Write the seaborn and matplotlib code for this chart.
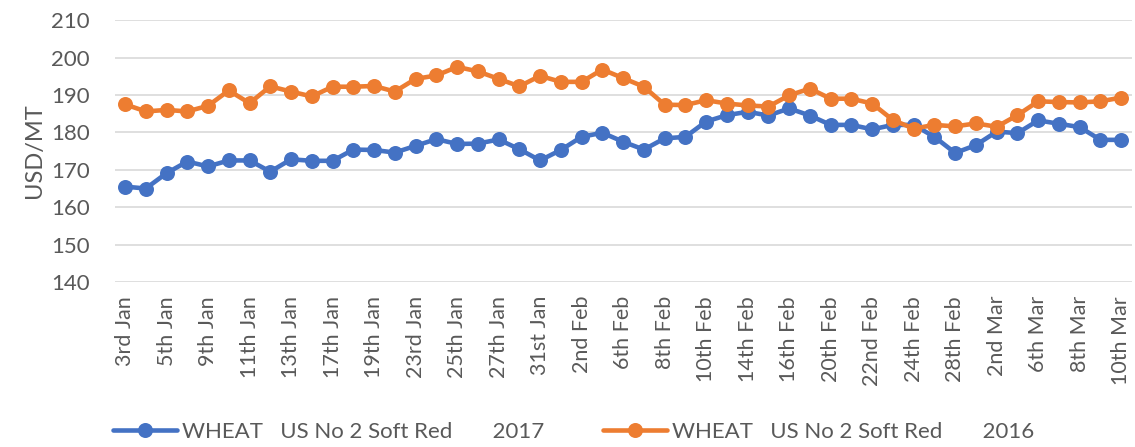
import matplotlib
matplotlib.use("Agg")
import matplotlib.pyplot as plt
from matplotlib.lines import Line2D
import seaborn as sns
import pandas as pd

dates = ["3rd Jan", "4th Jan", "5th Jan", "6th Jan", "9th Jan", "10th Jan", "11th Jan", "12th Jan",
         "13th Jan", "16th Jan", "17th Jan", "18th Jan", "19th Jan", "20th Jan", "23rd Jan", "24th Jan",
         "25th Jan", "26th Jan", "27th Jan", "30th Jan", "31st Jan", "1st Feb", "2nd Feb", "3rd Feb",
         "6th Feb", "7th Feb", "8th Feb", "9th Feb", "10th Feb", "13th Feb", "14th Feb", "15th Feb",
         "16th Feb", "17th Feb", "20th Feb", "21st Feb", "22nd Feb", "23rd Feb", "24th Feb", "27th Feb",
         "28th Feb", "1st Mar", "2nd Mar", "3rd Mar", "6th Mar", "7th Mar", "8th Mar", "9th Mar",
         "10th Mar"]

wheat_2017 = [165.5, 165.0, 169.1, 172.2, 170.9, 172.5, 172.5, 169.5, 172.8, 172.4,
              172.4, 175.4, 175.3, 174.6, 176.4, 178.2, 176.9, 177.0, 178.1, 175.5,
              172.5, 175.3, 178.8, 179.9, 177.5, 175.4, 178.4, 178.8, 182.9, 184.6,
              185.5, 184.5, 186.4, 184.5, 182.0, 182.0, 180.8, 182.0, 182.0, 178.8,
              174.5, 176.6, 180.2, 179.8, 183.2, 182.3, 181.4, 178.0, 178.0]

wheat_2016 = [187.5, 185.6, 186.0, 185.6, 187.1, 191.2, 187.8, 192.3, 190.9, 189.6,
              192.2, 192.2, 192.4, 190.9, 194.3, 195.2, 197.5, 196.3, 194.3, 192.3,
              195.1, 193.5, 193.5, 196.8, 194.5, 192.2, 187.4, 187.3, 188.6, 187.7,
              187.2, 186.9, 189.9, 191.7, 189.0, 189.0, 187.7, 183.3, 181.0, 182.0,
              181.6, 182.4, 181.5, 184.6, 188.3, 188.1, 188.0, 188.3, 189.3]

label_2017 = "WHEAT   US No 2 Soft Red       2017"
label_2016 = "WHEAT   US No 2 Soft Red       2016"
y_ticks = [140, 150, 160, 170, 180, 190, 200, 210]

BLUE = "#4472C4"
ORANGE = "#ED7D31"
GREY = "#595959"

sns.set_style("white")
plt.rcParams["font.family"] = ["Lato", "DejaVu Sans"]

df = pd.DataFrame({"idx": range(len(dates)), "date": dates,
                   "y2017": wheat_2017, "y2016": wheat_2016})

fig = plt.figure(figsize=(11.35, 4.47), dpi=100)
ax = fig.add_axes([0.101, 0.369, 0.896, 0.586])

for yv in y_ticks:
    ax.axhline(yv, color="#d9d9d9", lw=1.2, zorder=0)

LW, MS = 3.3, 10.8
sns.lineplot(data=df, x="idx", y="y2017", ax=ax, color=BLUE, lw=LW, marker="o",
             markersize=MS, markeredgewidth=0, zorder=3)
sns.lineplot(data=df, x="idx", y="y2016", ax=ax, color=ORANGE, lw=LW, marker="o",
             markersize=MS, markeredgewidth=0, zorder=4)

ax.set_xlim(-0.5, len(dates) - 0.5)
ax.set_ylim(140, 210)
ax.set_yticks(y_ticks)
ax.set_yticklabels([str(v) for v in y_ticks])
tick_pos = list(range(0, len(dates), 2))
ax.set_xticks(tick_pos)
ax.set_xticklabels([dates[i] for i in tick_pos], rotation=90)
ax.tick_params(axis="x", length=0, pad=10, labelsize=15.5, labelcolor=GREY)
ax.tick_params(axis="y", length=0, pad=18, labelsize=16, labelcolor=GREY)
for s in ax.spines.values():
    s.set_visible(False)
ax.grid(False)
ax.set_xlabel("")
ax.set_ylabel("USD/MT", fontsize=17, color=GREY, labelpad=4)

h_blue = Line2D([], [], color=BLUE, lw=LW, marker="o", markersize=MS, markeredgewidth=0)
h_orange = Line2D([], [], color=ORANGE, lw=LW, marker="o", markersize=MS, markeredgewidth=0)
common = dict(loc="center left", frameon=False, fontsize=16, handlelength=2.9,
              handletextpad=0.2, labelcolor=GREY, borderpad=0, borderaxespad=0)
fig.legend([h_blue], [label_2017], bbox_to_anchor=(113 / 1135, 0.034), **common)
fig.legend([h_orange], [label_2016], bbox_to_anchor=(603 / 1135, 0.034), **common)

fig.savefig("out.png", dpi=100)
